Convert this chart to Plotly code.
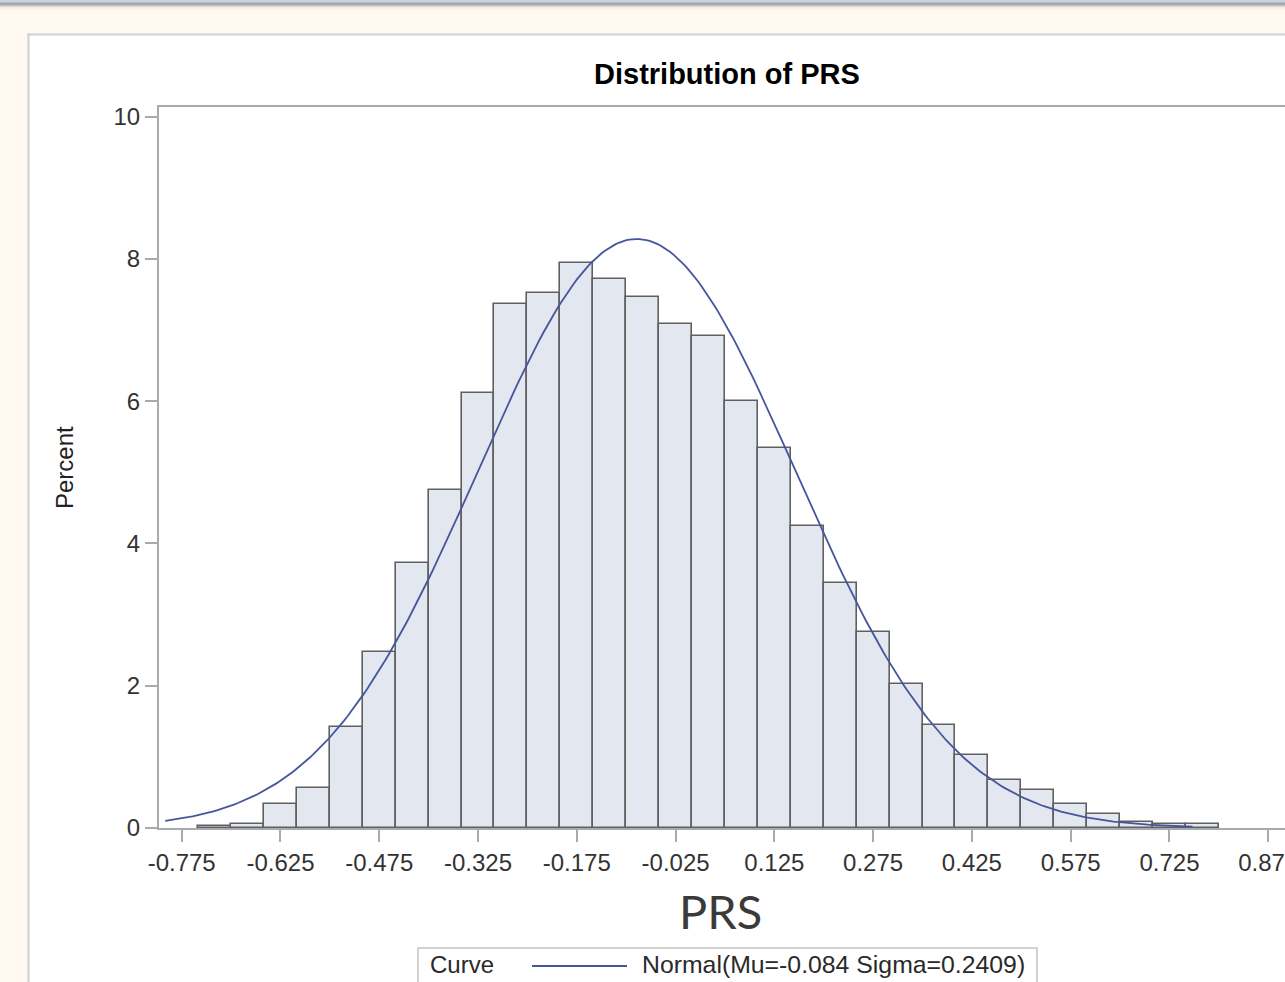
import numpy as np
import plotly.graph_objects as go

# ---------------- data ----------------
BIN_MIDPOINTS = [-0.725, -0.675, -0.625, -0.575, -0.525, -0.475, -0.425, -0.375,
                 -0.325, -0.275, -0.225, -0.175, -0.125, -0.075, -0.025, 0.025,
                 0.075, 0.125, 0.175, 0.225, 0.275, 0.325, 0.375, 0.425,
                 0.475, 0.525, 0.575, 0.625, 0.675, 0.725, 0.775]
PERCENT = [0.03, 0.06, 0.34, 0.56, 1.42, 2.48, 3.73, 4.75,
           6.12, 7.37, 7.52, 7.95, 7.72, 7.46, 7.09, 6.92,
           6.01, 5.34, 4.25, 3.45, 2.76, 2.02, 1.45, 1.02,
           0.68, 0.54, 0.34, 0.20, 0.08, 0.06, 0.06]
BIN_WIDTH = 0.05

# fitted normal curve (parameters from the legend)
MU = -0.084
SIGMA = 0.2409
CURVE_MIN, CURVE_MAX = -0.80, 0.76

X_TICKS = [-0.775, -0.625, -0.475, -0.325, -0.175, -0.025, 0.125, 0.275,
           0.425, 0.575, 0.725, 0.875]
X_TICK_LABELS = ["-0.775", "-0.625", "-0.475", "-0.325", "-0.175", "-0.025",
                 "0.125", "0.275", "0.425", "0.575", "0.725", "0.875"]
Y_TICKS = [0, 2, 4, 6, 8, 10]

TITLE = "Distribution of PRS"
Y_LABEL = "Percent"
X_LABEL = "PRS"
LEGEND_TITLE = "Curve"
LEGEND_ENTRY = f"Normal(Mu={MU} Sigma={SIGMA})"

# ---------------- layout geometry (pixels) ----------------
W, H = 1285, 982
L, R, T, B = 159, 0, 107, 154
PW, PH = W - L - R, H - T - B


def px(xp):
    return (xp - L) / PW


def py(yp):
    return (H - B - yp) / PH


FONT = "Liberation Sans, Arial, Helvetica, sans-serif"
AXIS_COL = "#A6ABB0"
CURVE_COL = "#46559C"

curve_x = np.linspace(CURVE_MIN, CURVE_MAX, 300)
curve_y = 100 * BIN_WIDTH * np.exp(-0.5 * ((curve_x - MU) / SIGMA) ** 2) / (SIGMA * np.sqrt(2 * np.pi))

fig = go.Figure()
fig.add_trace(go.Bar(
    x=BIN_MIDPOINTS, y=PERCENT, width=BIN_WIDTH,
    marker=dict(color="#E2E7F0", line=dict(color="#606060", width=1.6)),
    showlegend=False, name="Percent",
))
fig.add_trace(go.Scatter(
    x=curve_x, y=curve_y, mode="lines",
    line=dict(color=CURVE_COL, width=1.8),
    showlegend=False, name=LEGEND_ENTRY,
))

shapes = []
BEIGE = "#FFF8F0"
# page surround
shapes.append(dict(type="rect", xref="paper", yref="paper", x0=px(0), x1=px(W), y0=py(0), y1=py(34),
                   fillcolor=BEIGE, line=dict(width=0), layer="below"))
shapes.append(dict(type="rect", xref="paper", yref="paper", x0=px(0), x1=px(28), y0=py(0), y1=py(H),
                   fillcolor=BEIGE, line=dict(width=0), layer="below"))
shapes.append(dict(type="rect", xref="paper", yref="paper", x0=px(0), x1=px(W), y0=py(0), y1=py(2.5),
                   fillcolor="#C3D5E8", line=dict(width=0), layer="below"))
for i, c in enumerate(["#8E8E8E", "#A9A7A4", "#C6C3BF", "#DEDAD4", "#EEE9E2", "#F8F2EA"]):
    shapes.append(dict(type="rect", xref="paper", yref="paper", x0=px(0), x1=px(W),
                       y0=py(2.5 + i * 1.2), y1=py(3.7 + i * 1.2),
                       fillcolor=c, line=dict(width=0), layer="below"))
# panel border
shapes.append(dict(type="line", xref="paper", yref="paper", x0=px(27), x1=px(W), y0=py(34.5), y1=py(34.5),
                   line=dict(color="#D0D0D0", width=2), layer="below"))
shapes.append(dict(type="line", xref="paper", yref="paper", x0=px(28.5), x1=px(28.5), y0=py(34), y1=py(H),
                   line=dict(color="#D0D0D0", width=2), layer="below"))
# legend box and sample line
shapes.append(dict(type="rect", xref="paper", yref="paper", x0=px(418), x1=px(1037), y0=py(948), y1=py(1000),
                   fillcolor="white", line=dict(color="#C4C4C4", width=1.5)))
shapes.append(dict(type="line", xref="paper", yref="paper", x0=px(532), x1=px(627), y0=py(966), y1=py(966),
                   line=dict(color=CURVE_COL, width=1.8)))

annotations = [
    dict(text=f"<b>{TITLE}</b>", xref="paper", yref="paper", x=px(727), y=py(74),
         showarrow=False, xanchor="center", yanchor="middle",
         font=dict(family=FONT, size=29, color="#000000")),
    dict(text=Y_LABEL, xref="paper", yref="paper", x=px(64), y=py(468), textangle=-90,
         showarrow=False, xanchor="center", yanchor="middle",
         font=dict(family=FONT, size=24, color="#222222")),
    dict(text=X_LABEL, xref="paper", yref="paper", x=px(720), y=py(911),
         showarrow=False, xanchor="center", yanchor="middle",
         font=dict(family="Lato, Open Sans, sans-serif", size=47, color="#3A3A3A")),
    dict(text=LEGEND_TITLE, xref="paper", yref="paper", x=px(428), y=py(965),
         showarrow=False, xanchor="left", yanchor="middle",
         font=dict(family=FONT, size=24, color="#2A2A2A")),
    dict(text=LEGEND_ENTRY, xref="paper", yref="paper", x=px(640), y=py(965),
         showarrow=False, xanchor="left", yanchor="middle",
         font=dict(family=FONT, size=24.8, color="#2A2A2A")),
]

x_per_px = 1.0 / 658.5
y_per_px = 1.0 / 71.16
x_range = [-0.775 - (181.7 - L) * x_per_px, -0.775 + (W - R - 181.7) * x_per_px]
y_range = [0, (828.3 - T) * y_per_px]

fig.update_layout(
    width=W, height=H,
    margin=dict(l=L, r=R, t=T, b=B, pad=0, autoexpand=False),
    paper_bgcolor="white", plot_bgcolor="white",
    bargap=0, showlegend=False,
    shapes=shapes, annotations=annotations,
    xaxis=dict(range=x_range, tickmode="array", tickvals=X_TICKS, ticktext=X_TICK_LABELS,
               showgrid=False, zeroline=False, showline=True, linecolor=AXIS_COL, linewidth=2,
               mirror=True, ticks="outside", ticklen=12, tickwidth=2, tickcolor=AXIS_COL,
               tickfont=dict(family=FONT, size=24, color="#333333"),
               ticklabeloverflow="allow", automargin=False, fixedrange=True),
    yaxis=dict(range=y_range, tickmode="array", tickvals=Y_TICKS,
               showgrid=False, zeroline=False, showline=True, linecolor=AXIS_COL, linewidth=2,
               mirror=False, ticks="outside", ticklen=12, tickwidth=2, tickcolor=AXIS_COL,
               tickfont=dict(family=FONT, size=24, color="#333333"),
               automargin=False, fixedrange=True),
)

fig.write_html("out.html", config={"displayModeBar": False})
